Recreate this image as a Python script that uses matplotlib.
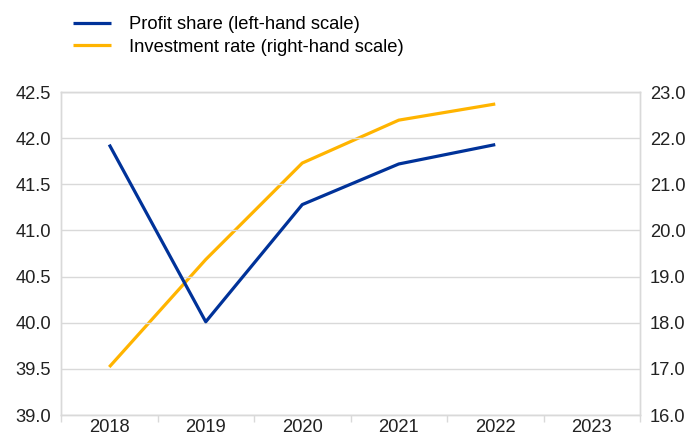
import matplotlib.pyplot as plt
import numpy as np

plt.rcParams['font.family'] = ['Liberation Sans', 'DejaVu Sans']

years = ['2018', '2019', '2020', '2021', '2022', '2023']
profit_share = [41.93, 40.01, 41.28, 41.72, 41.93]
investment_rate = [17.04, 19.37, 21.46, 22.39, 22.74]

blue = '#003299'
yellow = '#ffb400'
grid_col = '#d9d9d9'
fs = 13.2

fig = plt.figure(figsize=(6.86, 4.37), dpi=100)
ax = fig.add_axes([61 / 686, 22 / 437, 579 / 686, 323 / 437])
ax2 = ax.twinx()

x = np.arange(len(years))
l1, = ax.plot(x[:len(profit_share)], profit_share, color=blue, lw=2.3,
              solid_capstyle='butt', label='Profit share (left-hand scale)')
l2, = ax2.plot(x[:len(investment_rate)], investment_rate, color=yellow, lw=2.3,
               solid_capstyle='butt', label='Investment rate (right-hand scale)')
ax.set_zorder(ax2.get_zorder() + 1)
ax.patch.set_visible(False)

ax.set_xlim(-0.5, len(years) - 0.5)
ax.set_ylim(39.0, 42.5)
ax.set_yticks(np.arange(39.0, 42.51, 0.5))
ax.set_yticklabels([f'{v:.1f}' for v in np.arange(39.0, 42.51, 0.5)])
ax2.set_ylim(16.0, 23.0)
ax2.set_yticks(np.arange(16, 23.1, 1))
ax2.set_yticklabels([f'{v:.1f}' for v in np.arange(16, 23.1, 1)])

ax.set_xticks(x)
ax.set_xticklabels(years)
ax.set_xticks(np.arange(-0.5, len(years)), minor=True)
ax.tick_params(axis='x', which='major', length=0, pad=3, labelsize=fs, colors='#222222')
ax.tick_params(axis='x', which='minor', length=5, color=grid_col, width=1)
ax.tick_params(axis='y', length=0, pad=7, labelsize=fs, colors='#222222')
ax2.tick_params(axis='y', length=0, pad=7, labelsize=fs, colors='#222222')

ax.grid(axis='y', color=grid_col, lw=1)
for a in (ax, ax2):
    for s in a.spines.values():
        s.set_color(grid_col)
        s.set_linewidth(1)

fig.legend(handles=[l1, l2], loc='upper left', bbox_to_anchor=(73 / 686, 1 - 16 / 437),
           frameon=False, fontsize=fs, handlelength=2.05, handletextpad=1.0,
           labelspacing=0.3, borderpad=0, borderaxespad=0)

fig.savefig('out.png', dpi=100)
